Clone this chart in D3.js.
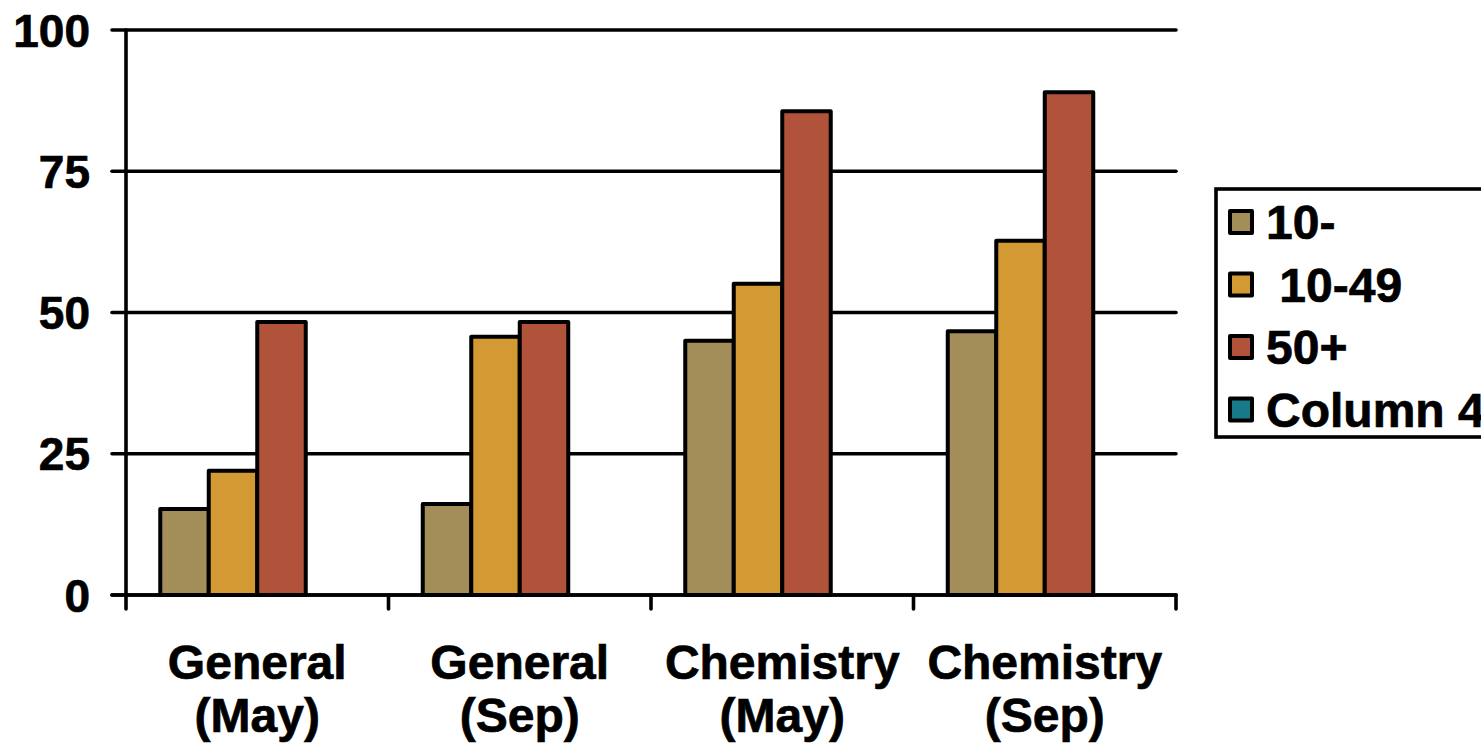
<!DOCTYPE html>
<html>
<head>
<meta charset="utf-8">
<script src="https://cdn.jsdelivr.net/npm/d3@7"></script>
<style>
  html, body { margin: 0; padding: 0; background: #ffffff; }
  svg { display: block; }
  text { font-family: "Liberation Sans", Arial, Helvetica, sans-serif; font-weight: bold; fill: #000; stroke: #000; stroke-width: 0.7px; }
</style>
</head>
<body>
<svg id="chart" width="1481" height="749"></svg>
<script>
// Category labels (two lines each)
const categories = ["General (May)", "General (Sep)", "Chemistry (May)", "Chemistry (Sep)"];
const categoryLines = [["General", "(May)"], ["General", "(Sep)"], ["Chemistry", "(May)"], ["Chemistry", "(Sep)"]];

// Series names and values
const seriesNames = ["10-", " 10-49", "50+", "Column 4"];
const seriesColors = ["#A38D59", "#D39A33", "#B0533A", "#18798A"];
const under10 = [15.2, 16.1, 45.0, 46.7];
const from10to49 = [22.0, 45.7, 55.1, 62.7];
const over50 = [48.3, 48.3, 85.6, 89.0];
const column4 = [null, null, null, null];
const seriesValues = [under10, from10to49, over50, column4];

// Y axis ticks
const yTicks = [0, 25, 50, 75, 100];

const svg = d3.select("#chart");

const plot = { left: 126, right: 1176, top: 30, bottom: 595 };

const y = d3.scaleLinear().domain([0, 100]).range([plot.bottom, plot.top]);
const x0 = d3.scaleBand().domain(categories).range([plot.left, plot.right])
  .paddingInner(0.261).paddingOuter(0.1305);
const x1 = d3.scaleBand().domain(seriesNames).range([0, x0.bandwidth()]);
const xTickScale = d3.scaleBand().domain(categories).range([plot.left, plot.right]);

// Horizontal gridlines with small left ticks
svg.append("g").selectAll("line.grid")
  .data(yTicks)
  .join("line")
  .attr("x1", plot.left - 14)
  .attr("x2", plot.right)
  .attr("y1", d => y(d))
  .attr("y2", d => y(d))
  .attr("stroke", "#000")
  .attr("stroke-width", 3.6)
  .attr("stroke-linecap", "round");

// Y tick labels
svg.append("g").selectAll("text")
  .data(yTicks)
  .join("text")
  .attr("x", 90)
  .attr("y", d => y(d) + 16.5)
  .attr("text-anchor", "end")
  .attr("font-size", 46)
  .text(d => d);

// Bars
const barData = [];
seriesValues.forEach((vals, si) => {
  vals.forEach((v, ci) => {
    if (v !== null) barData.push({ cat: categories[ci], series: seriesNames[si], value: v, color: seriesColors[si] });
  });
});

svg.append("g").selectAll("rect")
  .data(barData)
  .join("rect")
  .attr("x", d => x0(d.cat) + x1(d.series))
  .attr("y", d => y(d.value))
  .attr("width", x1.bandwidth())
  .attr("height", d => y(0) - y(d.value))
  .attr("fill", d => d.color)
  .attr("stroke", "#000")
  .attr("stroke-width", 4)
  .attr("stroke-linejoin", "round");

// Y axis line
svg.append("line")
  .attr("x1", plot.left).attr("x2", plot.left)
  .attr("y1", plot.top).attr("y2", plot.bottom + 14)
  .attr("stroke", "#000").attr("stroke-width", 3.6).attr("stroke-linecap", "round");

// X axis baseline and category separator ticks
svg.append("line")
  .attr("x1", plot.left - 14).attr("x2", plot.right)
  .attr("y1", y(0)).attr("y2", y(0))
  .attr("stroke", "#000").attr("stroke-width", 3.6).attr("stroke-linecap", "round");

const sepTicks = categories.map(c => xTickScale(c) + xTickScale.bandwidth());
svg.append("g").selectAll("line")
  .data(sepTicks)
  .join("line")
  .attr("x1", d => d).attr("x2", d => d)
  .attr("y1", y(0)).attr("y2", y(0) + 14)
  .attr("stroke", "#000").attr("stroke-width", 3.6).attr("stroke-linecap", "round");

// Category labels
const catLabels = svg.append("g").selectAll("text")
  .data(categories)
  .join("text")
  .attr("text-anchor", "middle")
  .attr("font-size", 48)
  .attr("x", d => xTickScale(d) + xTickScale.bandwidth() / 2);
catLabels.each(function(d, i) {
  const t = d3.select(this);
  const cx = xTickScale(d) + xTickScale.bandwidth() / 2;
  categoryLines[i].forEach((line, li) => {
    t.append("tspan").attr("x", cx).attr("y", 679 + li * 53).text(line);
  });
});

// Legend
const legend = svg.append("g");
legend.append("rect")
  .attr("x", 1216).attr("y", 189)
  .attr("width", 300).attr("height", 248)
  .attr("fill", "#fff").attr("stroke", "#000").attr("stroke-width", 3.6);

const rows = legend.selectAll("g.row")
  .data(seriesNames)
  .join("g")
  .attr("transform", (d, i) => `translate(0, ${222 + i * 62.5})`);
rows.append("rect")
  .attr("x", 1230).attr("y", -11)
  .attr("width", 22).attr("height", 22)
  .attr("fill", (d, i) => seriesColors[i])
  .attr("stroke", "#000").attr("stroke-width", 4)
  .attr("stroke-linejoin", "round");
rows.append("text")
  .attr("x", 1266).attr("y", 17)
  .attr("font-size", 48)
  .attr("xml:space", "preserve")
  .style("white-space", "pre")
  .text(d => d);
</script>
</body>
</html>
